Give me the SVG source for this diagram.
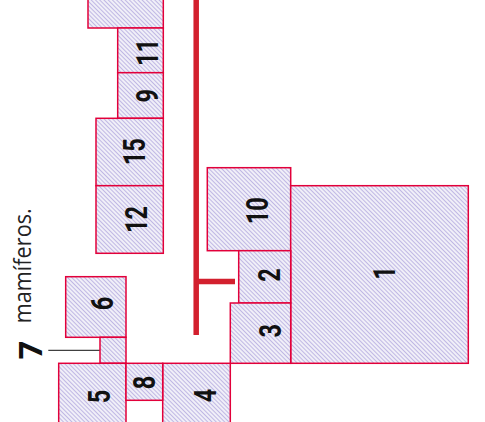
<svg xmlns="http://www.w3.org/2000/svg" width="485" height="422" viewBox="0 0 485 422">
<defs>
<pattern id="hatch" patternUnits="userSpaceOnUse" width="3" height="3" patternTransform="rotate(45)">
<rect width="3" height="3" fill="#ffffff"/>
<line x1="0" y1="1.5" x2="3" y2="1.5" stroke="#c0b8e4" stroke-width="1.45"/>
</pattern>
</defs>
<style>
.box{fill:url(#hatch);stroke:#e2003a;stroke-width:1.5}
.num{font-family:Roboto,"Liberation Sans",sans-serif;font-weight:700;font-size:31px;fill:#111;text-anchor:middle}
.lbl{font-family:"Open Sans","Liberation Sans",sans-serif;font-size:23.5px;fill:#222}
</style>
<rect width="485" height="422" fill="#ffffff"/>
<g id="connectors">
<line x1="196.2" y1="0" x2="196.2" y2="335" stroke="#d3202e" stroke-width="5.5"/>
<line x1="196.2" y1="281.5" x2="235" y2="281.5" stroke="#d3202e" stroke-width="5.5"/>
<line x1="48.3" y1="350.3" x2="100" y2="350.3" stroke="#111" stroke-width="1"/>
</g>
<g id="node-top"><rect class="box" x="88" y="-3" width="75.3" height="31"/></g>
<g id="node-11"><rect class="box" x="117.7" y="28" width="45.6" height="44.7"/><text class="num" transform="translate(158.3,52.5) rotate(-90) scale(0.76,1)">11</text></g>
<g id="node-9"><rect class="box" x="117.7" y="72.7" width="45.6" height="45.6"/><text class="num" transform="translate(158.3,95.8) rotate(-90) scale(0.76,1)">9</text></g>
<g id="node-15"><rect class="box" x="96" y="118.3" width="67.3" height="67.4"/><text class="num" transform="translate(145,151.7) rotate(-90) scale(0.76,1)">15</text></g>
<g id="node-12"><rect class="box" x="96" y="185.7" width="67.3" height="67.6"/><text class="num" transform="translate(146.5,219.5) rotate(-90) scale(0.76,1)">12</text></g>
<g id="node-10"><rect class="box" x="207.3" y="167.7" width="83.4" height="83"/><text class="num" transform="translate(268.3,210.8) rotate(-90) scale(0.76,1)">10</text></g>
<g id="node-1"><rect class="box" x="290.7" y="185.7" width="177.6" height="177.6"/><text class="num" transform="translate(395,273) rotate(-90) scale(0.76,1)">1</text></g>
<g id="node-2"><rect class="box" x="238.7" y="250.7" width="52" height="52.3"/><text class="num" transform="translate(280,275) rotate(-90) scale(0.76,1)">2</text></g>
<g id="node-3"><rect class="box" x="230.3" y="303" width="60.4" height="60.3"/><text class="num" transform="translate(280.7,330.8) rotate(-90) scale(0.76,1)">3</text></g>
<g id="node-4"><rect class="box" x="162.7" y="363.3" width="67.6" height="70"/><text class="num" transform="translate(216,395.5) rotate(-90) scale(0.76,1)">4</text></g>
<g id="node-6"><rect class="box" x="65.7" y="276.7" width="60.3" height="60.6"/><text class="num" transform="translate(113.3,303.5) rotate(-90) scale(0.76,1)">6</text></g>
<g id="node-7"><rect class="box" x="100" y="337.3" width="26" height="26"/></g>
<g id="node-5"><rect class="box" x="58.7" y="363.3" width="67.3" height="70"/><text class="num" transform="translate(110,396.5) rotate(-90) scale(0.76,1)">5</text></g>
<g id="node-8"><rect class="box" x="126" y="363.3" width="36.7" height="37"/><text class="num" transform="translate(155,382.5) rotate(-90) scale(0.76,1)">8</text></g>
<g id="labels">
<text class="lbl" transform="translate(30.5,323.3) rotate(-90)" textLength="115" lengthAdjust="spacingAndGlyphs">mamíferos.</text>
<text transform="translate(41.7,350) rotate(-90)" text-anchor="middle" font-family="'Open Sans','Liberation Sans',sans-serif" font-weight="700" font-size="32" fill="#111">7</text>
</g>
</svg>
